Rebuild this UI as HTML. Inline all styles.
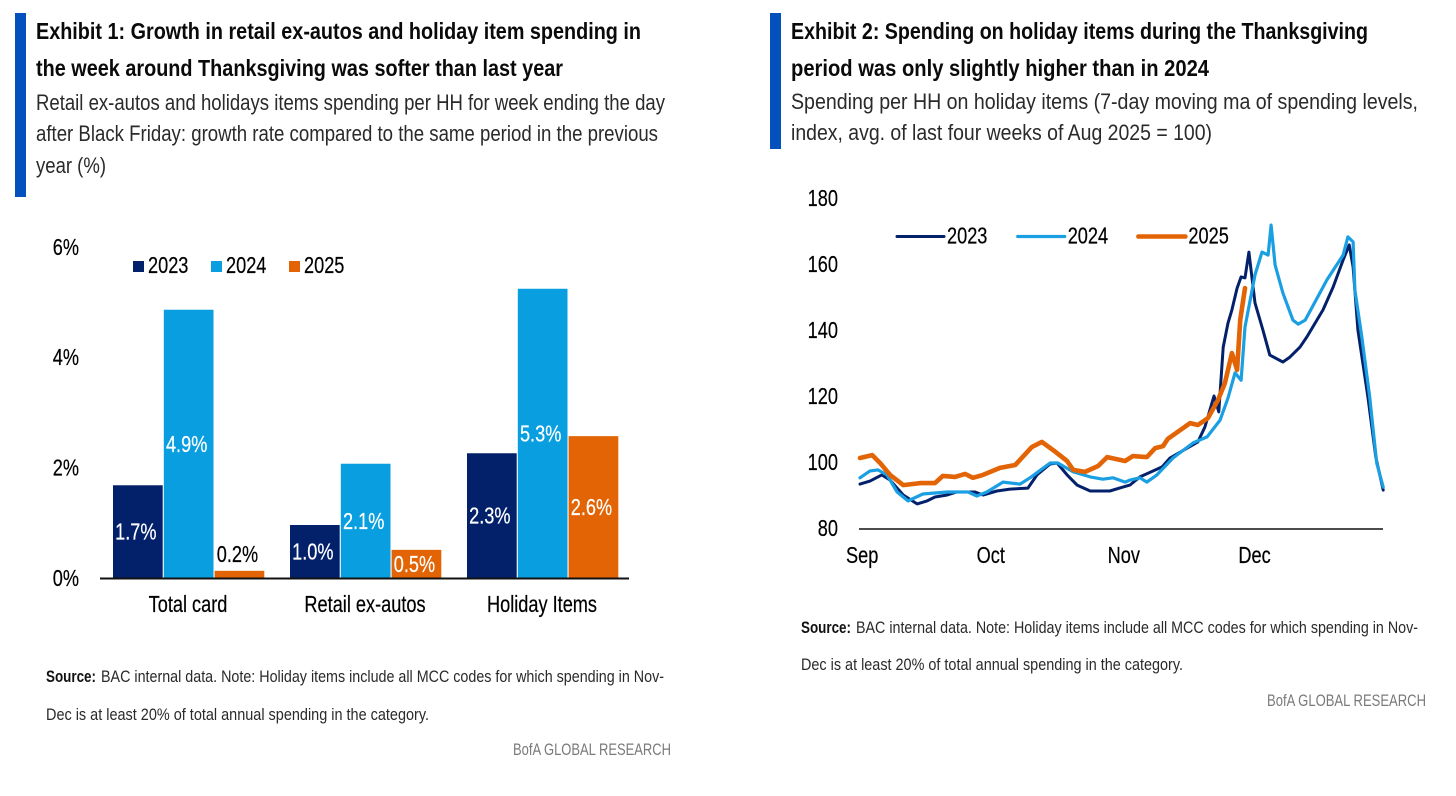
<!DOCTYPE html>
<html lang="en">
<head>
<meta charset="utf-8">
<title>BofA holiday spending exhibits</title>
<style>
html,body{margin:0;padding:0;background:#fff;}
svg{display:block;}
text{font-family:"Liberation Sans",sans-serif;}
.ttl{font-size:23.5px;font-weight:700;fill:#0a0a0a;}
.sub{font-size:22px;fill:#2a2a2a;}
.src{font-size:16.5px;fill:#2a2a2a;}
.srcb{font-size:16.5px;font-weight:700;fill:#111;}
.brand{font-size:17px;fill:#7a7a7a;}
</style>
</head>
<body>
<svg id="page" xmlns="http://www.w3.org/2000/svg" width="1456" height="796" viewBox="0 0 1456 796">
  <rect x="0" y="0" width="1456" height="796" fill="#ffffff"/>

  <g>
    <rect x="15" y="13" width="11" height="184" fill="#0451bd"/>
    <text class="ttl" x="36" y="39" textLength="605" lengthAdjust="spacingAndGlyphs">Exhibit 1: Growth in retail ex-autos and holiday item spending in</text>
    <text class="ttl" x="36" y="76" textLength="527" lengthAdjust="spacingAndGlyphs">the week around Thanksgiving was softer than last year</text>
    <text class="sub" x="36" y="110" textLength="629" lengthAdjust="spacingAndGlyphs">Retail ex-autos and holidays items spending per HH for week ending the day</text>
    <text class="sub" x="36" y="141" textLength="622" lengthAdjust="spacingAndGlyphs">after Black Friday: growth rate compared to the same period in the previous</text>
    <text class="sub" x="36" y="173" textLength="70" lengthAdjust="spacingAndGlyphs">year (%)</text>
  </g>

  <g>
    <rect x="770" y="13" width="11" height="136" fill="#0451bd"/>
    <text class="ttl" x="791" y="39" textLength="577" lengthAdjust="spacingAndGlyphs">Exhibit 2: Spending on holiday items during the Thanksgiving</text>
    <text class="ttl" x="791" y="76" textLength="418" lengthAdjust="spacingAndGlyphs">period was only slightly higher than in 2024</text>
    <text class="sub" x="791" y="109" textLength="627" lengthAdjust="spacingAndGlyphs">Spending per HH on holiday items (7-day moving ma of spending levels,</text>
    <text class="sub" x="791" y="140" textLength="421" lengthAdjust="spacingAndGlyphs">index, avg. of last four weeks of Aug 2025 = 100)</text>
  </g>

  <g id="bar-chart"></g>
  <g id="line-chart"></g>

  <g>
    <text class="srcb" x="46" y="682" textLength="50" lengthAdjust="spacingAndGlyphs">Source:</text>
    <text class="src" x="101" y="682" textLength="563" lengthAdjust="spacingAndGlyphs">BAC internal data. Note: Holiday items include all MCC codes for which spending in Nov-</text>
    <text class="src" x="46" y="720" textLength="383" lengthAdjust="spacingAndGlyphs">Dec is at least 20% of total annual spending in the category.</text>
    <text class="brand" x="513" y="755" textLength="158" lengthAdjust="spacingAndGlyphs">BofA GLOBAL RESEARCH</text>
  </g>
  <g>
    <text class="srcb" x="801" y="633" textLength="50" lengthAdjust="spacingAndGlyphs">Source:</text>
    <text class="src" x="856" y="633" textLength="562" lengthAdjust="spacingAndGlyphs">BAC internal data. Note: Holiday items include all MCC codes for which spending in Nov-</text>
    <text class="src" x="801" y="670" textLength="382" lengthAdjust="spacingAndGlyphs">Dec is at least 20% of total annual spending in the category.</text>
    <text class="brand" x="1267" y="706" textLength="159" lengthAdjust="spacingAndGlyphs">BofA GLOBAL RESEARCH</text>
  </g>
</svg>

<script>
/* ---------- Exhibit 1 data ---------- */
const barCategories = ["Total card", "Retail ex-autos", "Holiday Items"];
const barYears = ["2023", "2024", "2025"];
const bars2023 = [1.68, 0.96, 2.26];
const bars2024 = [4.86, 2.07, 5.24];
const bars2025 = [0.13, 0.51, 2.57];
const barLabels2023 = ["1.7%", "1.0%", "2.3%"];
const barLabels2024 = ["4.9%", "2.1%", "5.3%"];
const barLabels2025 = ["0.2%", "0.5%", "2.6%"];
const barTicks = [0, 2, 4, 6];

/* ---------- Exhibit 2 data ---------- */
const lineYears = ["2023", "2024", "2025"];
const lineTicks = [80, 100, 120, 140, 160, 180];
const monthLabels = ["Sep", "Oct", "Nov", "Dec"];
const monthDays = [0.5, 30, 60.5, 90.5];
const days2023 = [0,2.3,5,6.9,9.9,13.1,15.4,17.2,20,22.2,26.4,28.2,31.4,34.4,38.5,40.6,43.6,45.2,47.5,49.8,52.8,57.3,60.3,61.9,64.2,69.3,71.1,77.5,79.1,81.2,82.3,83.3,84.4,85.3,86.5,87.4,88.3,89.2,90.6,92.4,94,97,98.6,100.9,102.5,106.2,108.5,110.8,112.2,113.1,114.2,116.5,118.3,120];
const values2023 = [93.3,94.2,96.1,94.5,90,87.3,88.2,89.4,90,90.9,90.9,90,91.2,91.8,92.1,96.1,99.4,99.7,96.1,93,91.2,91.2,92.4,93,95.5,98.5,101.2,106.1,110.6,120,115.2,134.8,142.1,146.1,152.7,156.1,155.8,163.6,148.2,140,132.4,130.3,131.8,134.8,137.9,146.1,153,161.2,165.8,159.1,140,119.7,101.5,91.5];
const days2024 = [0,2.3,4.1,6.2,8.5,11,14.4,20,24.8,26.8,29.1,32.8,36.7,39,43.6,45.4,48.9,52.8,55.7,58,60.8,61.9,64.2,65.8,68.1,71.8,76.4,79.6,82.6,84.4,86,87.4,88.3,90.6,92.2,93.6,94.3,95.2,97,99.3,100.5,102.1,107.1,110.8,111.9,113.1,113.5,115.1,116.9,118.5,120];
const values2024 = [95.2,97.3,97.6,96.1,90.9,88.2,90.3,90.9,90.9,89.7,90.9,93.9,93.3,95.2,99.7,99.7,97,95.5,94.8,95.2,93.9,94.5,95.2,93.9,96.1,101.2,105.8,107.6,112.7,119.4,127,124.8,140.9,156.7,163.6,162.7,171.8,159.7,151.2,143,141.8,143,155.2,162.7,168.2,166.7,152.1,137.9,119.7,99.7,92.4];
const days2025 = [0,2.8,4.6,6.9,9.9,13.8,17.2,19,21.8,24.1,25.9,28.2,32.1,35.6,39.4,41.7,44.3,47.5,48.9,51.6,54.6,56.7,60.8,62.6,65.8,67.7,69.5,70.6,75.7,77.5,79.8,82.1,83.7,85.3,86.5,87.2,88.3];
const values2025 = [101.2,102.1,99.7,96.1,93,93.6,93.6,95.8,95.5,96.4,95.2,96.1,98.2,99.1,104.5,106.1,103.6,100.3,97.6,97,98.8,101.5,100.3,101.8,101.5,104.2,104.8,107,111.8,111.2,113.3,118.8,123.9,133,127.9,143,152.7];

/* ---------- helpers ---------- */
const NS = "http://www.w3.org/2000/svg";
const NAVY = "#03216b", BLUE = "#089ee0", ORANGE = "#e36405", LINEBLUE = "#1a9fe2";
function make(tag, parent) {
  const el = document.createElementNS(NS, tag);
  parent.appendChild(el);
  return el;
}
function label(parent, str, x, y, anchor, fill) {
  const el = make("text", parent);
  const col = fill || "#000";
  el.textContent = str;
  el.setAttribute("transform", "translate(" + x + "," + y + ") scale(0.79,1)");
  el.setAttribute("font-size", "23");
  el.setAttribute("text-anchor", anchor);
  el.setAttribute("fill", col);
  el.setAttribute("stroke", col);
  el.setAttribute("stroke-width", "0.2");
  return el;
}

/* ---------- Exhibit 1 ---------- */
(function () {
  const root = document.getElementById("bar-chart");
  const y0 = 578, perUnit = 55.2;
  const yScale = v => y0 - v * perUnit;
  const groupX = i => 113 + i * 177;
  const seriesX = s => s * 50.8;
  const barW = 49.7;
  const seriesVals = [bars2023, bars2024, bars2025];
  const seriesLabels = [barLabels2023, barLabels2024, barLabels2025];
  const seriesCols = [NAVY, BLUE, ORANGE];

  barTicks.forEach(t => {
    const el = label(root, t + "%", 79, yScale(t) + 8, "end");
    
    
  });

  seriesVals.forEach((vals, s) => {
    vals.forEach((v, i) => {
      const x = groupX(i) + seriesX(s);
      const r = make("rect", root);
      r.setAttribute("x", x);
      r.setAttribute("y", yScale(v));
      r.setAttribute("width", barW);
      r.setAttribute("height", v * perUnit);
      r.setAttribute("fill", seriesCols[s]);
      
      
      const small = v < 0.3;
      const ly = small ? yScale(v) - 9 : yScale(v / 2) + 8;
      const t = label(root, seriesLabels[s][i], x + barW / 2 - 2, ly, "middle", small ? "#000" : "#fff");
      
      
    });
  });

  const axis = make("line", root);
  axis.setAttribute("x1", 100);
  axis.setAttribute("x2", 629);
  axis.setAttribute("y1", 578.5);
  axis.setAttribute("y2", 578.5);
  axis.setAttribute("stroke", "#111");
  axis.setAttribute("stroke-width", 2);
  
  

  barCategories.forEach((c, i) => {
    const el = label(root, c, groupX(i) + 75, 612, "middle");
    
    
  });

  barYears.forEach((yr, i) => {
    const lx = 133 + i * 78;
    const sw = make("rect", root);
    sw.setAttribute("x", lx);
    sw.setAttribute("y", 261);
    sw.setAttribute("width", 11);
    sw.setAttribute("height", 11);
    sw.setAttribute("fill", seriesCols[i]);
    
    
    const t = label(root, yr, lx + 15, 273, "start");
    
    
  });
})();

/* ---------- Exhibit 2 ---------- */
(function () {
  const root = document.getElementById("line-chart");
  const xScale = d => 860 + d * 4.36;
  const yScale = v => 528 - (v - 80) * 3.3;

  lineTicks.forEach(t => {
    const el = label(root, String(t), 838, yScale(t) + 8, "end");
    
    
  });

  const axis = make("line", root);
  axis.setAttribute("x1", 859);
  axis.setAttribute("x2", 1383);
  axis.setAttribute("y1", 529);
  axis.setAttribute("y2", 529);
  axis.setAttribute("stroke", "#111");
  axis.setAttribute("stroke-width", 1.6);
  
  

  monthLabels.forEach((m, i) => {
    const el = label(root, m, xScale(monthDays[i]), 563, "middle");
    
    
  });

  const seriesDays = [days2023, days2024, days2025];
  const seriesVals = [values2023, values2024, values2025];
  const cols = [NAVY, LINEBLUE, ORANGE];
  const widths = [3, 3.2, 4.6];

  seriesVals.forEach((vals, s) => {
    const p = make("polyline", root);
    p.setAttribute("points", vals.map((v, i) => xScale(seriesDays[s][i]).toFixed(1) + "," + yScale(v).toFixed(1)).join(" "));
    p.setAttribute("fill", "none");
    p.setAttribute("stroke", cols[s]);
    p.setAttribute("stroke-width", widths[s]);
    p.setAttribute("stroke-linejoin", "round");
    p.setAttribute("stroke-linecap", "round");
    
    
  });

  lineYears.forEach((yr, i) => {
    const lx = 897 + i * 120.7;
    const ln = make("line", root);
    ln.setAttribute("x1", lx);
    ln.setAttribute("x2", lx + 47);
    ln.setAttribute("y1", 236.5);
    ln.setAttribute("y2", 236.5);
    ln.setAttribute("stroke", cols[i]);
    ln.setAttribute("stroke-width", widths[i]);
    ln.setAttribute("stroke-linecap", "round");
    
    
    const t = label(root, yr, lx + 50, 243.5, "start");
    
    
  });
})();
</script>
</body>
</html>
